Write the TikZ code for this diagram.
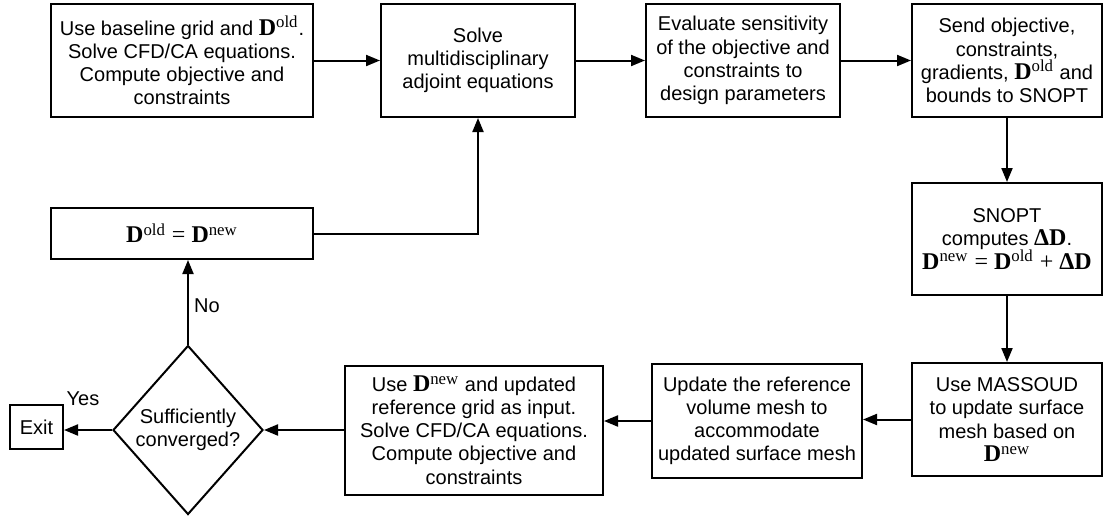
\documentclass[tikz,border=0pt]{standalone}
\usepackage{fontspec}
\setmainfont{Liberation Sans}
\newfontfamily\serifD[Scale=1.2]{Liberation Serif}
\usetikzlibrary{shapes.geometric,arrows.meta}
\newcommand\Dv[1]{{\serifD\textbf{D}\textsuperscript{#1}}}

\begin{document}
\begin{tikzpicture}[x=0.5pt,y=-0.5pt,
  every node/.style={font=\fontsize{10}{11.6}\selectfont},
  box/.style={draw,line width=1pt,align=center,inner sep=1pt},
  decide/.style={draw,diamond,line width=1pt,align=center,inner sep=0pt},
  flow/.style={-{Triangle[length=7pt,width=5.5pt]},line width=1pt}]
  \useasboundingbox (0,0) rectangle (1104,515);

  % top row
  \node (init) at (182,60.5) [box,minimum width=131pt,minimum height=56.5pt]
    {Use baseline grid and \Dv{old}.\\Solve CFD/CA equations.\\Compute objective and\\constraints};
  \node (adjoint) at (478,60.5) [box,minimum width=97pt,minimum height=56.5pt]
    {Solve\\multidisciplinary\\adjoint equations};
  \node (sens) at (743,60.5) [box,minimum width=97pt,minimum height=56.5pt]
    {Evaluate sensitivity\\of the objective and\\constraints to\\design parameters};
  \node (send) at (1007,60.5) [box,minimum width=95pt,minimum height=56.5pt]
    {Send objective,\\constraints,\\gradients, \Dv{old} and\\bounds to SNOPT};

  % right column
  \node (snopt) at (1007,239) [box,minimum width=95pt,minimum height=56pt]
    {SNOPT\\computes {\serifD\textbf{ΔD}}.\\{\serifD\textbf{D}\textsuperscript{new} = \textbf{D}\textsuperscript{old} + \textbf{ΔD}}};
  \node (massoud) at (1007,419.5) [box,minimum width=95pt,minimum height=56.5pt]
    {Use MASSOUD\\to update surface\\mesh based on\\\Dv{new}};

  % bottom row
  \node (volume) at (757,421) [box,minimum width=105pt,minimum height=57pt]
    {Update the reference\\volume mesh to\\accommodate\\updated surface mesh};
  \node (solve) at (474,430) [box,minimum width=129pt,minimum height=64.5pt]
    {Use \Dv{new} and updated\\reference grid as input.\\Solve CFD/CA equations.\\Compute objective and\\constraints};
  \node (conv) at (188,430) [decide,minimum width=75pt,minimum height=84.5pt]
    {Sufficiently\\converged?};
  \node (exit) at (36.5,427) [box,minimum width=26.5pt,minimum height=22pt] {Exit};

  % update box
  \node (update) at (182,233.5) [box,minimum width=131pt,minimum height=25.5pt]
    {{\serifD\textbf{D}\textsuperscript{old} = \textbf{D}\textsuperscript{new}}};

  % connectors
  \draw[flow] (init) -- (adjoint);
  \draw[flow] (adjoint) -- (sens);
  \draw[flow] (sens) -- (send);
  \draw[flow] (send) -- (snopt);
  \draw[flow] (snopt) -- (massoud);
  \draw[flow] (massoud.west) -- (massoud.west -| volume.east);
  \draw[flow] (volume.west) -- (volume.west -| solve.east);
  \draw[flow] (solve.west) -- (conv.east);
  \draw[flow] (conv.west) -- (conv.west -| exit.east);
  \draw[flow] (conv.north) -- (conv.north |- update.south);
  \draw[flow] (update.east) -| (adjoint.south);

  \node (yes) at (83,399) {Yes};
  \node (no) at (207,306) {No};
\end{tikzpicture}
\end{document}
